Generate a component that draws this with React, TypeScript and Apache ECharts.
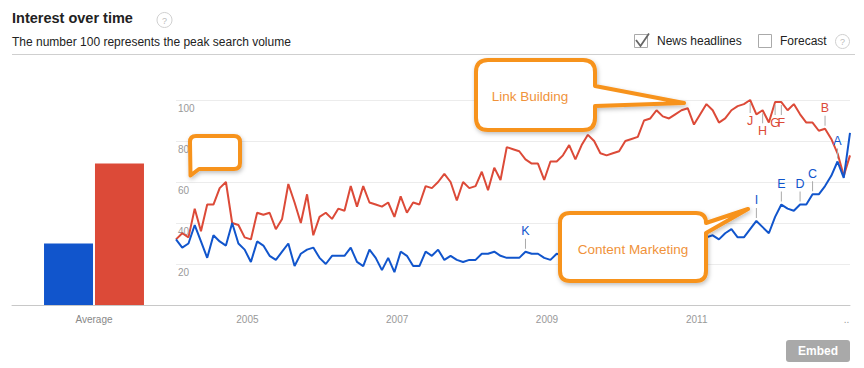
import React, { useEffect, useRef } from "react";
import * as echarts from "echarts";

// ---- data ----
const barCategories = ["Average"];
const avgContentMarketing = [30];
const avgLinkBuilding = [69];

// monthly categories 2004-01 .. 2013-01
const months: string[] = [];
for (let y = 2004; months.length < 109; y++) {
  for (let m = 1; m <= 12 && months.length < 109; m++) {
    months.push(`${y}-${m < 10 ? "0" + m : m}`);
  }
}

const linkBuilding = [
  32, 35, 33, 47, 36, 49, 49, 57, 60, 40, 39, 33, 32, 45, 44, 45, 37, 42, 59, 50,
  40, 54, 34, 43, 45, 42, 47, 46, 58, 48, 58, 50, 49, 48, 50, 43, 53, 45, 50, 49,
  58, 57, 60, 64, 60, 51, 60, 57, 58, 65, 56, 67, 61, 77, 76, 75, 71, 69, 69, 61,
  70, 70, 73, 78, 71, 78, 83, 80, 74, 73, 74, 75, 80, 81, 82, 90, 91, 95, 92, 91,
  93, 95, 96, 88, 93, 98, 95, 89, 91, 95, 97, 98, 100, 93, 95, 89, 99, 99, 95, 98,
  93, 89, 89, 85, 86, 81, 74, 63, 73,
];

const contentMarketing = [
  32, 28, 30, 39, 31, 23, 34, 31, 29, 40, 30, 27, 21, 31, 29, 24, 22, 26, 30, 19,
  25, 27, 28, 23, 20, 24, 24, 24, 28, 21, 19, 27, 23, 17, 23, 16, 26, 24, 19, 19,
  26, 24, 27, 22, 24, 22, 21, 22, 22, 25, 25, 26, 24, 23, 23, 23, 26, 25, 25, 23,
  22, 25, 24, 26, 23, 25, 27, 25, 24, 26, 28, 26, 27, 29, 28, 30, 27, 29, 31, 30,
  28, 31, 33, 32, 30, 33, 34, 32, 35, 37, 33, 33, 37, 41, 38, 35, 43, 49, 47, 46,
  49, 49, 54, 54, 58, 63, 70, 62, 84,
];

const xTickLabels: Record<string, string> = {
  "2005-01": "2005",
  "2007-01": "2007",
  "2009-01": "2009",
  "2011-01": "2011",
  "2013-01": "..",
};

const linkLetters = ["J", "H", "G", "F", "B"];
const linkLetterIdx = [92, 94, 96, 97, 104];
const linkLetterAbove = [false, false, false, false, true];

const contentLetters = ["K", "I", "E", "D", "C", "A"];
const contentLetterIdx = [56, 93, 97, 100, 102, 106];
const contentLetterAbove = [true, true, true, true, true, true];

// ---- styles ----
const BLUE = "#1155cc";
const RED = "#dc4a38";
const ORANGE = "#f7931e";
const FONT = '"Liberation Sans", Arial, Helvetica, sans-serif';

const linkPath =
  "M 488 60 L 583 60 Q 595 60 595 72 L 595 86 L 684 103 L 595 106 L 595 118 Q 595 130 583 130 L 488 130 Q 476 130 476 118 L 476 72 Q 476 60 488 60 Z";
const contentPath =
  "M 570 213 L 696 213 Q 706 213 706 223 L 748 209 L 706 233 L 706 271 Q 706 281 696 281 L 570 281 Q 560 281 560 271 L 560 223 Q 560 213 570 213 Z";
const smallPath =
  "M 196 136 L 234 136 Q 240 136 240 142 L 240 163 Q 240 169 234 169 L 199 169 L 190.5 175.5 L 190 142 Q 190 136 196 136 Z";

echarts.graphic.registerShape("calloutLink", echarts.graphic.extendPath(linkPath, {}));
echarts.graphic.registerShape("calloutContent", echarts.graphic.extendPath(contentPath, {}));
echarts.graphic.registerShape("calloutSmall", echarts.graphic.extendPath(smallPath, {}));

function letterMarks(letters: string[], idx: number[], above: boolean[], values: number[], color: string) {
  return letters.map((l, k) => ({
    coord: [months[idx[k]], values[idx[k]]],
    symbol: "rect",
    symbolSize: [1, 10],
    symbolOffset: [0, above[k] ? -8 : 8],
    itemStyle: { color: "#aaaaaa" },
    label: {
      show: true,
      position: above[k] ? "top" : "bottom",
      distance: 1,
      formatter: l,
      color,
      fontSize: 12.5,
      fontFamily: FONT,
    },
  }));
}

const calloutStyle = {
  fill: "#ffffff",
  stroke: ORANGE,
  lineWidth: 4,
  lineJoin: "round",
  shadowBlur: 4,
  shadowColor: "rgba(0,0,0,0.25)",
  shadowOffsetX: 1,
  shadowOffsetY: 2,
};

function buildOption() {
  return {
    animation: false,
    backgroundColor: "#ffffff",
    textStyle: { fontFamily: FONT },
    grid: [
      { left: 12, top: 100, width: 164, bottom: 63 },
      { left: 176, top: 100, right: 14, bottom: 63 },
    ],
    xAxis: [
      {
        type: "category",
        gridIndex: 0,
        data: barCategories,
        axisLine: { lineStyle: { color: "#c8c8c8" } },
        axisTick: { show: false },
        axisLabel: { color: "#888", fontSize: 10, margin: 9, fontFamily: FONT },
      },
      {
        type: "category",
        gridIndex: 1,
        data: months,
        boundaryGap: false,
        axisLine: { lineStyle: { color: "#c8c8c8" } },
        axisTick: { show: false },
        axisLabel: {
          color: "#999",
          fontSize: 10,
          margin: 9,
          fontFamily: FONT,
          padding: [0, 7, 0, 0],
          interval: (_i: number, v: string) => v in xTickLabels,
          formatter: (v: string) => xTickLabels[v] ?? "",
        },
      },
    ],
    yAxis: [
      { type: "value", gridIndex: 0, min: 0, max: 100, show: false },
      {
        type: "value",
        gridIndex: 1,
        min: 0,
        max: 100,
        interval: 20,
        axisLine: { show: false },
        axisTick: { show: false },
        splitLine: { lineStyle: { color: "#ececec" } },
        axisLabel: {
          inside: true,
          margin: 2,
          color: "#999",
          fontSize: 10,
          fontFamily: FONT,
          verticalAlign: "top",
          padding: [3, 0, 0, 0],
          formatter: (v: number) => (v === 0 ? "" : String(v)),
        },
      },
    ],
    series: [
      {
        name: "Content Marketing",
        type: "bar",
        xAxisIndex: 0,
        yAxisIndex: 0,
        data: avgContentMarketing,
        barWidth: 49,
        barGap: "4%",
        itemStyle: { color: BLUE },
        silent: true,
      },
      {
        name: "Link Building",
        type: "bar",
        xAxisIndex: 0,
        yAxisIndex: 0,
        data: avgLinkBuilding,
        barWidth: 49,
        itemStyle: { color: RED },
        silent: true,
      },
      {
        name: "Link Building",
        type: "line",
        xAxisIndex: 1,
        yAxisIndex: 1,
        data: linkBuilding,
        showSymbol: false,
        lineStyle: { color: RED, width: 2 },
        itemStyle: { color: RED },
        z: 3,
        markPoint: {
          silent: true,
          data: letterMarks(linkLetters, linkLetterIdx, linkLetterAbove, linkBuilding, RED),
        },
      },
      {
        name: "Content Marketing",
        type: "line",
        xAxisIndex: 1,
        yAxisIndex: 1,
        data: contentMarketing,
        showSymbol: false,
        lineStyle: { color: BLUE, width: 2 },
        itemStyle: { color: BLUE },
        z: 4,
        markPoint: {
          silent: true,
          data: letterMarks(contentLetters, contentLetterIdx, contentLetterAbove, contentMarketing, BLUE),
        },
      },
    ],
    graphic: [
      {
        type: "text",
        x: 12,
        y: 18,
        style: {
          text: "Interest over time",
          fill: "#222",
          fontSize: 14.5,
          fontWeight: "bold",
          fontFamily: FONT,
          verticalAlign: "middle",
        },
      },
      { type: "circle", shape: { cx: 164.5, cy: 20, r: 7.5 }, style: { fill: "#fff", stroke: "#d0d0d0", lineWidth: 1 } },
      {
        type: "text",
        x: 164.5,
        y: 20.5,
        style: { text: "?", fill: "#bbb", fontSize: 9, fontFamily: FONT, align: "center", verticalAlign: "middle" },
      },
      {
        type: "text",
        x: 12,
        y: 41.5,
        style: {
          text: "The number 100 represents the peak search volume",
          fill: "#222",
          fontSize: 12,
          fontFamily: FONT,
          verticalAlign: "middle",
        },
      },
      { type: "line", shape: { x1: 12, y1: 54.5, x2: 855, y2: 54.5 }, style: { stroke: "#cfcfcf", lineWidth: 1 } },
      // checkboxes
      { type: "rect", shape: { x: 634.5, y: 34.5, width: 13, height: 13 }, style: { fill: "#fff", stroke: "#aaa", lineWidth: 1 } },
      {
        type: "polyline",
        shape: { points: [[636, 40], [640.5, 46], [649, 33.5]] },
        style: { stroke: "#666", lineWidth: 1.8, fill: null },
      },
      {
        type: "text",
        x: 657,
        y: 41,
        style: { text: "News headlines", fill: "#222", fontSize: 12, fontFamily: FONT, verticalAlign: "middle" },
      },
      { type: "rect", shape: { x: 758.5, y: 34.5, width: 13, height: 13 }, style: { fill: "#fff", stroke: "#aaa", lineWidth: 1 } },
      {
        type: "text",
        x: 780,
        y: 41,
        style: { text: "Forecast", fill: "#222", fontSize: 12, fontFamily: FONT, verticalAlign: "middle" },
      },
      { type: "circle", shape: { cx: 842.5, cy: 41.5, r: 7 }, style: { fill: "#fff", stroke: "#d0d0d0", lineWidth: 1 } },
      {
        type: "text",
        x: 842.5,
        y: 42,
        style: { text: "?", fill: "#bbb", fontSize: 9, fontFamily: FONT, align: "center", verticalAlign: "middle" },
      },
      // callouts
      { type: "calloutSmall", x: 0, y: 0, z: 100, style: { ...calloutStyle } },
      { type: "calloutLink", x: 0, y: 0, z: 100, style: { ...calloutStyle } },
      {
        type: "text",
        x: 530,
        y: 96,
        z: 101,
        style: { text: "Link Building", fill: "#f0923a", fontSize: 13.5, fontFamily: FONT, align: "center", verticalAlign: "middle" },
      },
      { type: "calloutContent", x: 0, y: 0, z: 100, style: { ...calloutStyle } },
      {
        type: "text",
        x: 633,
        y: 249,
        z: 101,
        style: { text: "Content Marketing", fill: "#f0923a", fontSize: 13.5, fontFamily: FONT, align: "center", verticalAlign: "middle" },
      },
      // Embed button
      { type: "rect", shape: { x: 786, y: 340, width: 64, height: 22, r: 3 }, style: { fill: "#a9a9a9" } },
      {
        type: "text",
        x: 818,
        y: 351,
        style: { text: "Embed", fill: "#fff", fontSize: 12, fontWeight: "bold", fontFamily: FONT, align: "center", verticalAlign: "middle" },
      },
    ],
  };
}

export default function App() {
  const ref = useRef<HTMLDivElement>(null);
  useEffect(() => {
    if (!ref.current) return;
    const chart = echarts.init(ref.current, null, { renderer: "svg" });
    chart.setOption(buildOption() as any);
    return () => chart.dispose();
  }, []);
  return (
    <div
      ref={ref}
      style={{ position: "absolute", left: 0, top: 0, width: 864, height: 368, background: "#fff" }}
    />
  );
}
